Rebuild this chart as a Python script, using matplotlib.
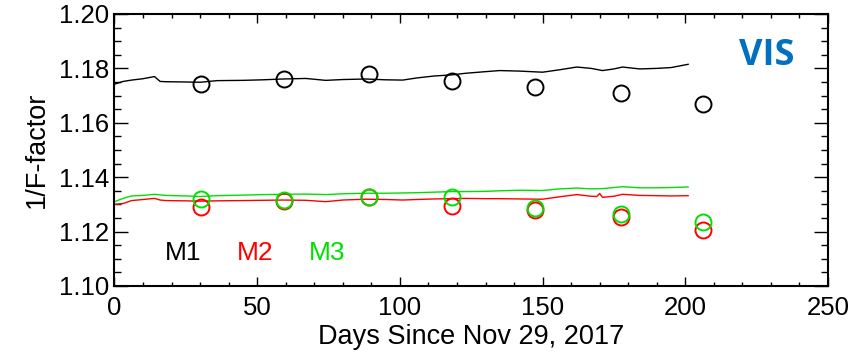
import matplotlib

matplotlib.use("Agg")
import matplotlib.pyplot as plt  # noqa: E402
from matplotlib.ticker import MultipleLocator  # noqa: E402

plt.rcParams["font.family"] = ["Liberation Sans", "DejaVu Sans"]

# 颜色
C_M1 = "#000000"
C_M2 = "#ff0000"
C_M3 = "#00e000"
C_VIS = "#0070c0"

# 连续曲线（每日 F-factor 读数，按图取样）
line_days = [0, 3, 6, 10, 14, 16, 18, 25, 30, 36, 45, 52, 59, 67, 74, 80, 88, 95,
             101, 106, 112, 118, 123, 130, 135, 142, 150, 156, 162, 167, 171, 175,
             178, 184, 190, 195, 201]
m1_line = [1.1742, 1.1752, 1.1757, 1.1762, 1.1770, 1.1752, 1.1751, 1.1750, 1.1749,
           1.1755, 1.1756, 1.1758, 1.1761, 1.1763, 1.1756, 1.1759, 1.1761, 1.1758,
           1.1757, 1.1765, 1.1772, 1.1776, 1.1782, 1.1788, 1.1792, 1.1790, 1.1786,
           1.1795, 1.1805, 1.1800, 1.1792, 1.1798, 1.1805, 1.1798, 1.1800, 1.1803,
           1.1815]
m3_line = [1.1310, 1.1322, 1.1331, 1.1333, 1.1337, 1.1335, 1.1333, 1.1331, 1.1329,
           1.1332, 1.1334, 1.1336, 1.1337, 1.1338, 1.1336, 1.1339, 1.1341, 1.1341,
           1.1342, 1.1343, 1.1345, 1.1347, 1.1347, 1.1348, 1.1350, 1.1352, 1.1351,
           1.1357, 1.1360, 1.1357, 1.1358, 1.1362, 1.1365, 1.1361, 1.1361, 1.1362,
           1.1364]
m2_days = [0, 3, 6, 10, 14, 16, 18, 25, 30, 36, 45, 52, 59, 67, 74, 80, 88, 95,
           101, 106, 112, 118, 123, 130, 135, 142, 150, 156, 162, 167, 169, 170,
           171, 175, 178, 184, 190, 195, 201]
m2_line = [1.1300, 1.1303, 1.1314, 1.1318, 1.1322, 1.1316, 1.1314, 1.1313, 1.1312,
           1.1313, 1.1314, 1.1315, 1.1316, 1.1315, 1.1310, 1.1316, 1.1319, 1.1318,
           1.1316, 1.1318, 1.1320, 1.1321, 1.1322, 1.1321, 1.1321, 1.1320, 1.1319,
           1.1328, 1.1336, 1.1330, 1.1329, 1.1340, 1.1326, 1.1330, 1.1337, 1.1333,
           1.1332, 1.1331, 1.1332]

# 月度定标点（圆圈）
pt_days = [30.3, 59.3, 89.2, 118.4, 147.3, 177.3, 206.2]
m1_pts = [1.1743, 1.1762, 1.1779, 1.1755, 1.1730, 1.1708, 1.1668]
m2_pts = [1.1292, 1.1314, 1.1326, 1.1294, 1.1279, 1.1255, 1.1206]
m3_pts = [1.1319, 1.1316, 1.1328, 1.1326, 1.1288, 1.1264, 1.1234]

fig = plt.figure(figsize=(8.53, 3.55), dpi=100)
ax = fig.add_axes([0.1342, 0.1944, 0.8365, 0.7662])

ax.plot(line_days, m1_line, color=C_M1, linewidth=1.0)
ax.plot(m2_days, m2_line, color=C_M2, linewidth=1.0)
ax.plot(line_days, m3_line, color=C_M3, linewidth=1.0)

mk = dict(marker="o", linestyle="none", markersize=11.5, markerfacecolor="none", markeredgewidth=1.4)
ax.plot(pt_days, m1_pts, markeredgecolor=C_M1, **mk)
ax.plot(pt_days, m2_pts, markeredgecolor=C_M2, **mk)
ax.plot(pt_days, m3_pts, markeredgecolor=C_M3, **mk)

ax.set_xlim(0, 250)
ax.set_ylim(1.10, 1.20)
ax.xaxis.set_major_locator(MultipleLocator(50))
ax.xaxis.set_minor_locator(MultipleLocator(10))
ax.yaxis.set_major_locator(MultipleLocator(0.02))
ax.yaxis.set_minor_locator(MultipleLocator(0.005))
ax.yaxis.set_major_formatter(plt.FormatStrFormatter("%.2f"))

ax.tick_params(axis="both", which="both", direction="in", top=True, right=True)
ax.tick_params(axis="x", which="major", length=6.5, width=1.0, labelsize=18.5, pad=7)
ax.tick_params(axis="x", which="minor", length=3.2, width=1.0)
ax.tick_params(axis="y", which="major", length=10, width=1.0, labelsize=18.5, pad=4)
ax.tick_params(axis="y", which="minor", length=5, width=1.0)
for s in ax.spines.values():
    s.set_linewidth(1.5)

ax.set_xlabel("Days Since Nov 29, 2017", fontsize=19.5, labelpad=3)
ax.set_ylabel("1/F-factor", fontsize=19.5, labelpad=6)

ax.text(228.5, 1.1846, "VIS", fontsize=26, fontweight="bold",
        color=C_VIS, ha="center", va="center", family=["Open Sans", "DejaVu Sans"])
for lbl, xc, c in [("M1", 24, C_M1), ("M2", 49.4, C_M2), ("M3", 74.6, C_M3)]:
    ax.text(xc, 1.1120, lbl, fontsize=19, color=c, ha="center", va="center")

fig.savefig("out.png", dpi=100)
